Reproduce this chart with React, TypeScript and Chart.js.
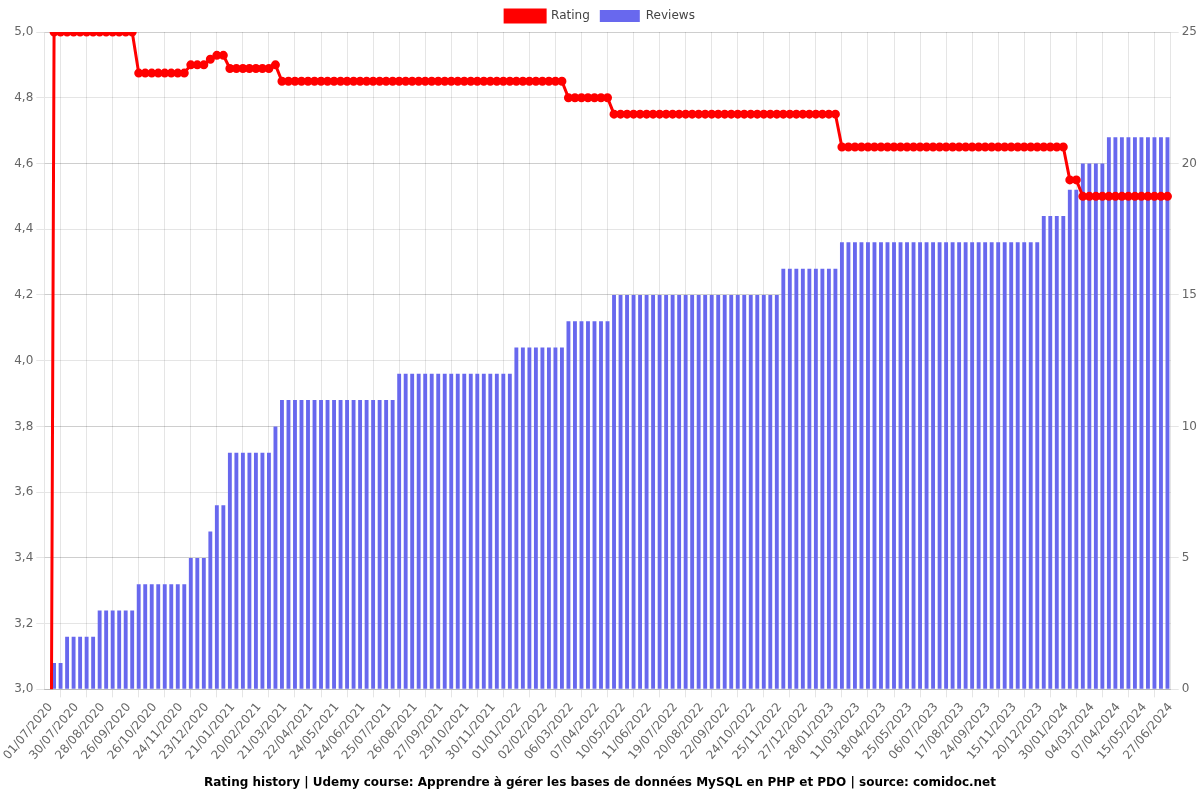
import React, { useEffect, useRef } from "react";
import { Chart, registerables } from "chart.js";

Chart.register(...registerables);

const dateLabels: string[] = [
  "01/07/2020","08/07/2020","15/07/2020","22/07/2020",
  "30/07/2020","06/08/2020","13/08/2020","20/08/2020",
  "28/08/2020","04/09/2020","11/09/2020","18/09/2020",
  "26/09/2020","03/10/2020","11/10/2020","18/10/2020",
  "26/10/2020","02/11/2020","09/11/2020","16/11/2020",
  "24/11/2020","01/12/2020","08/12/2020","15/12/2020",
  "23/12/2020","30/12/2020","06/01/2021","13/01/2021",
  "21/01/2021","28/01/2021","05/02/2021","12/02/2021",
  "20/02/2021","27/02/2021","06/03/2021","13/03/2021",
  "21/03/2021","29/03/2021","06/04/2021","14/04/2021",
  "22/04/2021","30/04/2021","08/05/2021","16/05/2021",
  "24/05/2021","01/06/2021","09/06/2021","16/06/2021",
  "24/06/2021","02/07/2021","10/07/2021","17/07/2021",
  "25/07/2021","02/08/2021","10/08/2021","18/08/2021",
  "26/08/2021","03/09/2021","11/09/2021","19/09/2021",
  "27/09/2021","05/10/2021","13/10/2021","21/10/2021",
  "29/10/2021","06/11/2021","14/11/2021","22/11/2021",
  "30/11/2021","08/12/2021","16/12/2021","24/12/2021",
  "01/01/2022","09/01/2022","17/01/2022","25/01/2022",
  "02/02/2022","10/02/2022","18/02/2022","26/02/2022",
  "06/03/2022","14/03/2022","22/03/2022","30/03/2022",
  "07/04/2022","15/04/2022","23/04/2022","02/05/2022",
  "10/05/2022","18/05/2022","26/05/2022","03/06/2022",
  "11/06/2022","20/06/2022","30/06/2022","09/07/2022",
  "19/07/2022","27/07/2022","04/08/2022","12/08/2022",
  "20/08/2022","28/08/2022","05/09/2022","14/09/2022",
  "22/09/2022","30/09/2022","08/10/2022","16/10/2022",
  "24/10/2022","01/11/2022","09/11/2022","17/11/2022",
  "25/11/2022","03/12/2022","11/12/2022","19/12/2022",
  "27/12/2022","04/01/2023","12/01/2023","20/01/2023",
  "28/01/2023","08/02/2023","18/02/2023","01/03/2023",
  "11/03/2023","20/03/2023","30/03/2023","08/04/2023",
  "18/04/2023","27/04/2023","06/05/2023","16/05/2023",
  "25/05/2023","04/06/2023","15/06/2023","25/06/2023",
  "06/07/2023","16/07/2023","27/07/2023","06/08/2023",
  "17/08/2023","26/08/2023","05/09/2023","14/09/2023",
  "24/09/2023","07/10/2023","20/10/2023","02/11/2023",
  "15/11/2023","24/11/2023","03/12/2023","11/12/2023",
  "20/12/2023","30/12/2023","09/01/2024","20/01/2024",
  "30/01/2024","07/02/2024","16/02/2024","24/02/2024",
  "04/03/2024","12/03/2024","21/03/2024","29/03/2024",
  "07/04/2024","16/04/2024","26/04/2024","05/05/2024",
  "15/05/2024","26/05/2024","05/06/2024","16/06/2024",
  "27/06/2024",
];

const reviewCounts: number[] = [
  0, 1, 1, 2, 2, 2, 2, 2, 3, 3,
  3, 3, 3, 3, 4, 4, 4, 4, 4, 4,
  4, 4, 5, 5, 5, 6, 7, 7, 9, 9,
  9, 9, 9, 9, 9, 10, 11, 11, 11, 11,
  11, 11, 11, 11, 11, 11, 11, 11, 11, 11,
  11, 11, 11, 11, 12, 12, 12, 12, 12, 12,
  12, 12, 12, 12, 12, 12, 12, 12, 12, 12,
  12, 12, 13, 13, 13, 13, 13, 13, 13, 13,
  14, 14, 14, 14, 14, 14, 14, 15, 15, 15,
  15, 15, 15, 15, 15, 15, 15, 15, 15, 15,
  15, 15, 15, 15, 15, 15, 15, 15, 15, 15,
  15, 15, 15, 16, 16, 16, 16, 16, 16, 16,
  16, 16, 17, 17, 17, 17, 17, 17, 17, 17,
  17, 17, 17, 17, 17, 17, 17, 17, 17, 17,
  17, 17, 17, 17, 17, 17, 17, 17, 17, 17,
  17, 17, 17, 18, 18, 18, 18, 19, 19, 20,
  20, 20, 20, 21, 21, 21, 21, 21, 21, 21,
  21, 21, 21,
];

const ratingValues: number[] = [
  0, 5, 5, 5, 5, 5, 5, 5, 5, 5,
  5, 5, 5, 5, 4.875, 4.875, 4.875, 4.875, 4.875, 4.875,
  4.875, 4.875, 4.9, 4.9, 4.9, 4.917, 4.929, 4.929, 4.889, 4.889,
  4.889, 4.889, 4.889, 4.889, 4.889, 4.9, 4.85, 4.85, 4.85, 4.85,
  4.85, 4.85, 4.85, 4.85, 4.85, 4.85, 4.85, 4.85, 4.85, 4.85,
  4.85, 4.85, 4.85, 4.85, 4.85, 4.85, 4.85, 4.85, 4.85, 4.85,
  4.85, 4.85, 4.85, 4.85, 4.85, 4.85, 4.85, 4.85, 4.85, 4.85,
  4.85, 4.85, 4.85, 4.85, 4.85, 4.85, 4.85, 4.85, 4.85, 4.85,
  4.8, 4.8, 4.8, 4.8, 4.8, 4.8, 4.8, 4.75, 4.75, 4.75,
  4.75, 4.75, 4.75, 4.75, 4.75, 4.75, 4.75, 4.75, 4.75, 4.75,
  4.75, 4.75, 4.75, 4.75, 4.75, 4.75, 4.75, 4.75, 4.75, 4.75,
  4.75, 4.75, 4.75, 4.75, 4.75, 4.75, 4.75, 4.75, 4.75, 4.75,
  4.75, 4.75, 4.65, 4.65, 4.65, 4.65, 4.65, 4.65, 4.65, 4.65,
  4.65, 4.65, 4.65, 4.65, 4.65, 4.65, 4.65, 4.65, 4.65, 4.65,
  4.65, 4.65, 4.65, 4.65, 4.65, 4.65, 4.65, 4.65, 4.65, 4.65,
  4.65, 4.65, 4.65, 4.65, 4.65, 4.65, 4.65, 4.55, 4.55, 4.5,
  4.5, 4.5, 4.5, 4.5, 4.5, 4.5, 4.5, 4.5, 4.5, 4.5,
  4.5, 4.5, 4.5,
];

const chartTitle =
  "Rating history | Udemy course: Apprendre à gérer les bases de données MySQL en PHP et PDO | source: comidoc.net";

export default function App() {
  const canvasRef = useRef<HTMLCanvasElement | null>(null);

  useEffect(() => {
    if (!canvasRef.current) return;
    Chart.defaults.font.family = "'DejaVu Sans', sans-serif";
    Chart.defaults.font.size = 12;
    const chart = new Chart(canvasRef.current, {
      type: "bar",
      data: {
        labels: dateLabels,
        datasets: [
          {
            type: "line",
            label: "Rating",
            data: ratingValues,
            yAxisID: "y",
            borderColor: "rgb(255,0,0)",
            backgroundColor: "rgb(255,0,0)",
            pointBackgroundColor: "rgb(255,0,0)",
            pointBorderColor: "rgb(255,0,0)",
            borderWidth: 3,
            pointRadius: 3,
            tension: 0,
          },
          {
            type: "bar",
            label: "Reviews",
            data: reviewCounts,
            yAxisID: "y1",
            backgroundColor: "rgba(104,104,238,1)",
            borderWidth: 0,
            barPercentage: 0.7,
            categoryPercentage: 0.85,
          },
        ],
      },
      options: {
        animation: false,
        responsive: true,
        maintainAspectRatio: false,
        plugins: {
          legend: { position: "top", labels: { color: "#444" } },
          title: {
            display: true,
            text: chartTitle,
            position: "bottom",
            color: "#000",
            font: { weight: "bold", size: 12 },
          },
          tooltip: { enabled: false },
        },
        scales: {
          x: {
            offset: true,
            grid: { offset: true },
            ticks: { maxRotation: 50, labelOffset: 3 },
          },
          y: {
            type: "linear",
            position: "left",
            min: 3,
            max: 5,
            ticks: {
              stepSize: 0.2,
              callback: (v: any) => Number(v).toFixed(1).replace(".", ","),
            },
          },
          y1: {
            type: "linear",
            position: "right",
            min: 0,
            max: 25,
            ticks: { stepSize: 5 },
          },
        },
      },
    } as any);
    return () => chart.destroy();
  }, []);

  return (
    <div style={{ position: "absolute", left: 0, top: 0, width: 1200, height: 800 }}>
      <canvas ref={canvasRef} />
    </div>
  );
}
